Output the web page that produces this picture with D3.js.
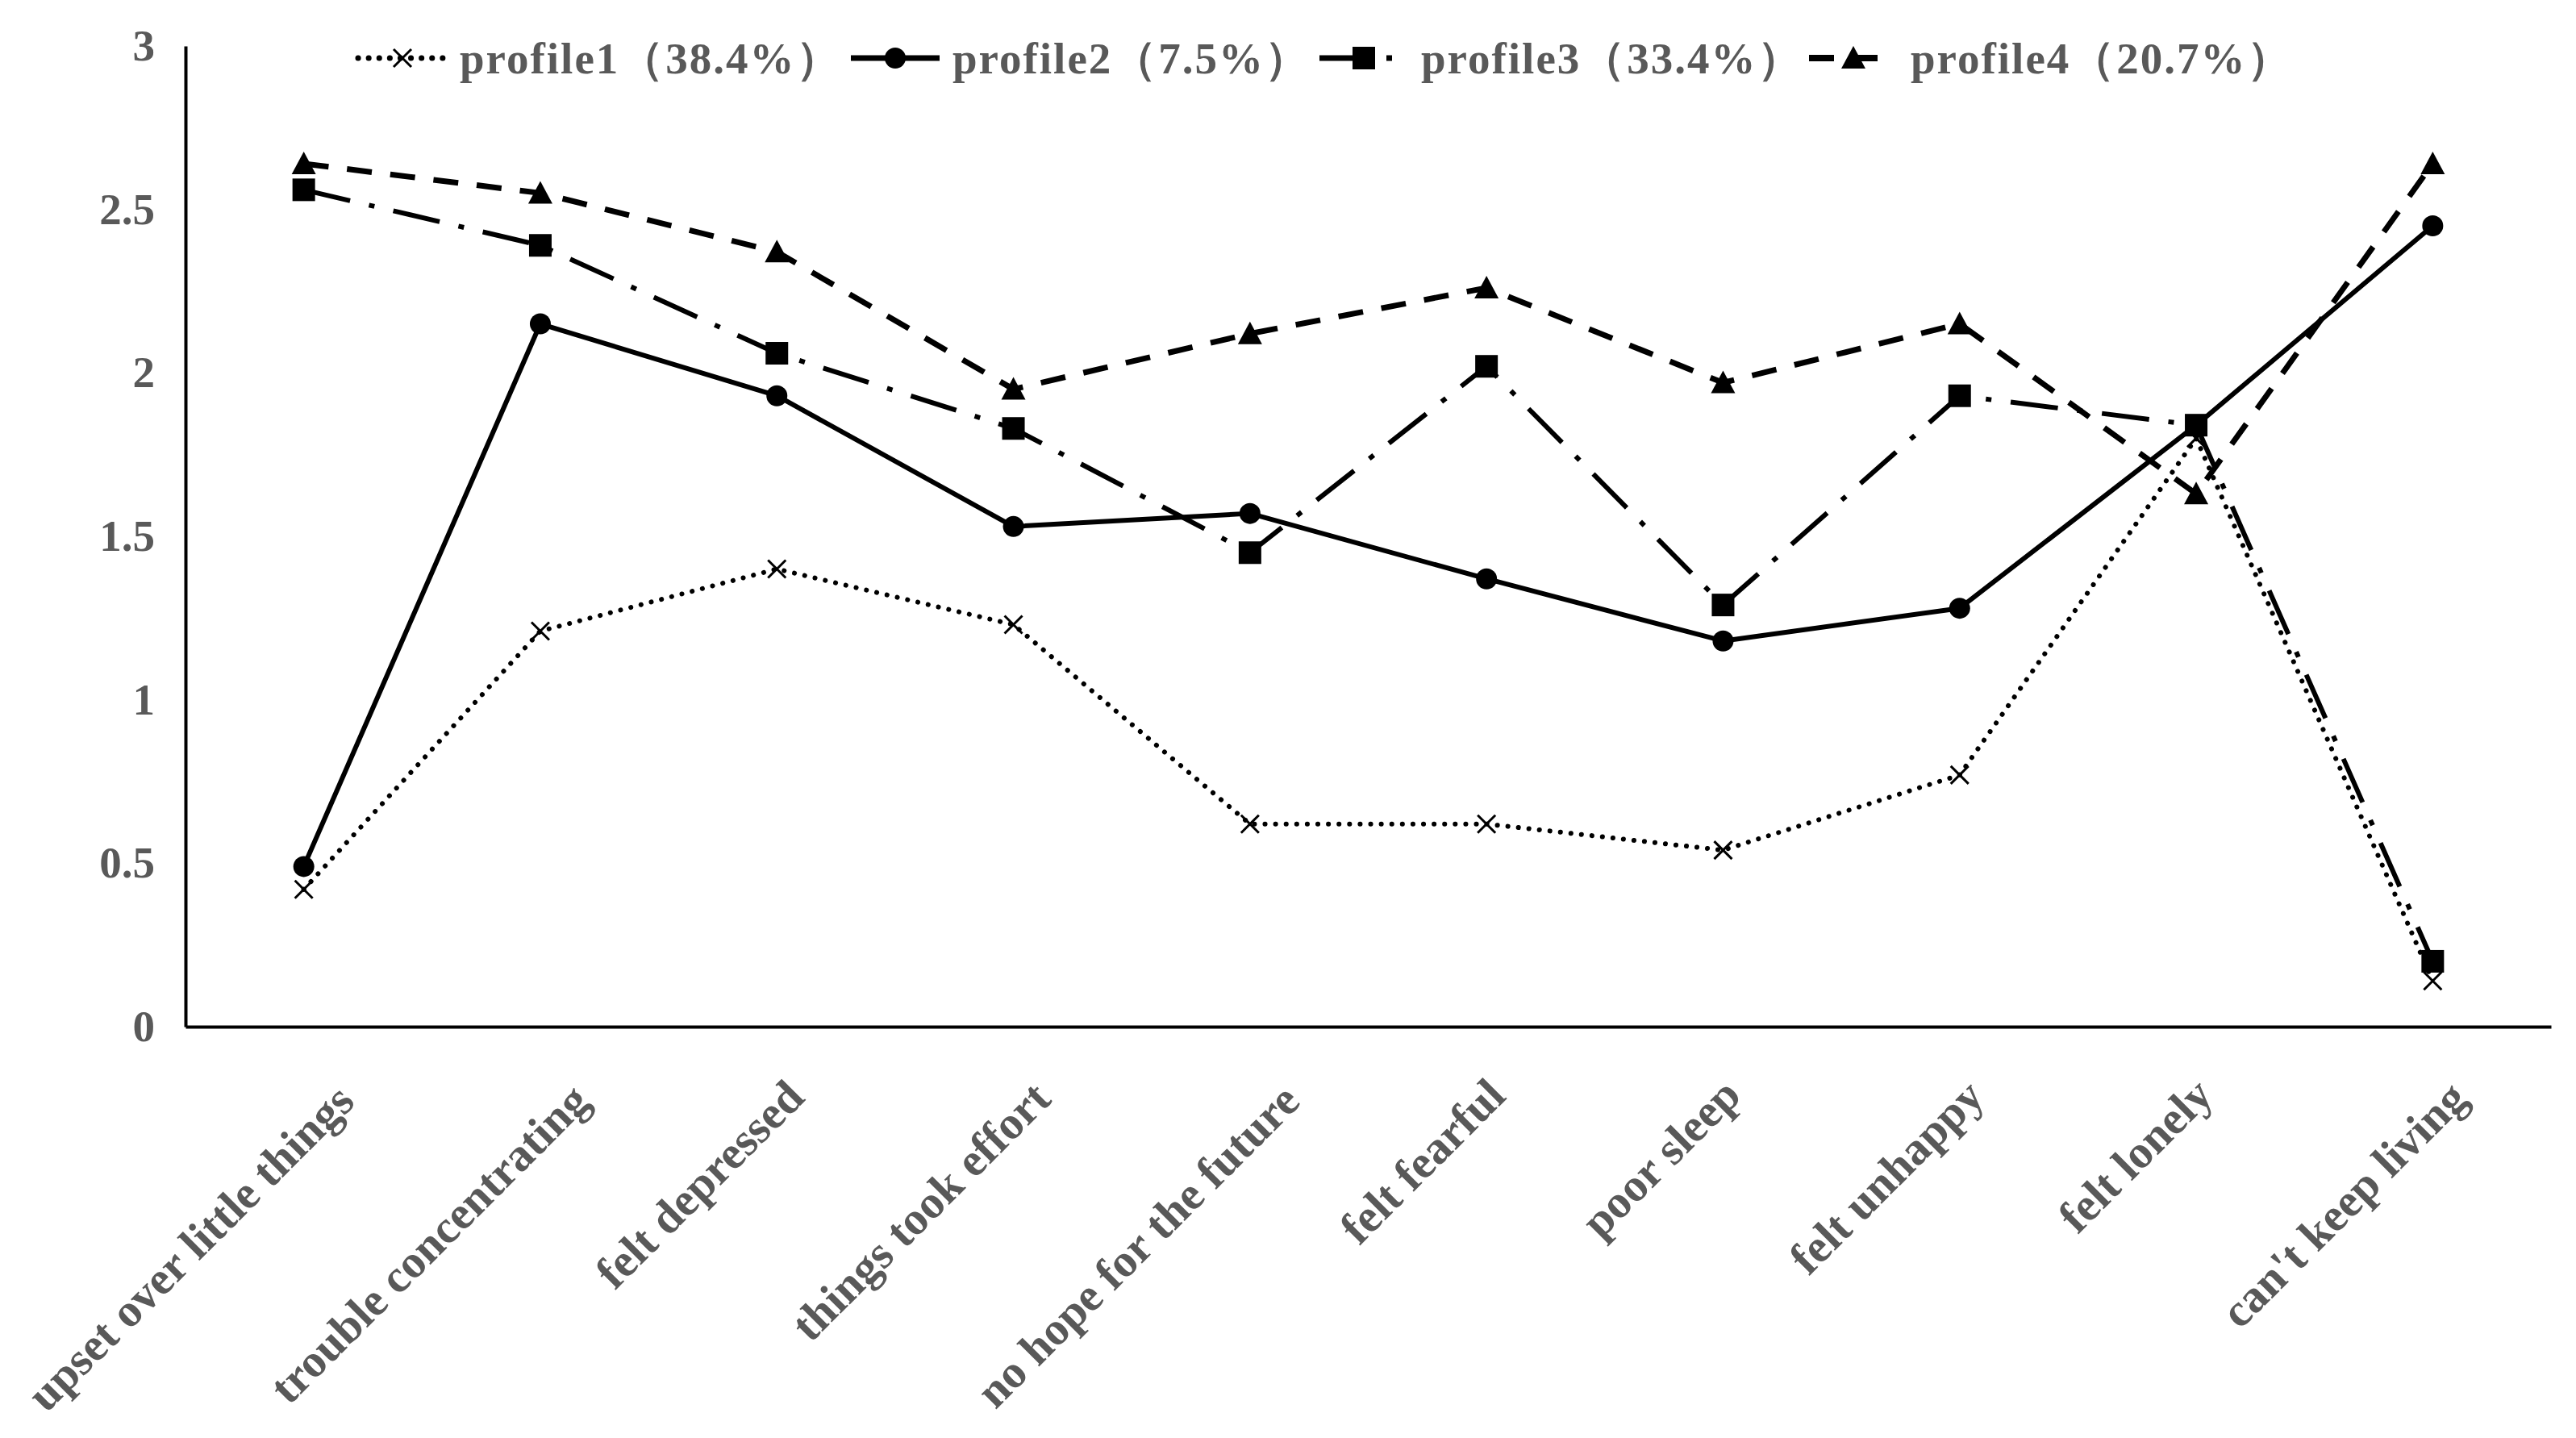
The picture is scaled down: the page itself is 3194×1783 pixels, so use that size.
<!DOCTYPE html>
<html>
<head>
<meta charset="utf-8">
<script src="https://cdnjs.cloudflare.com/ajax/libs/d3/7.8.5/d3.min.js"></script>
<style>
  body { margin: 0; background: #fff; }
  text { font-family: "Liberation Serif", "Times New Roman", serif; font-weight: bold; }
</style>
</head>
<body>
<div id="chart-area"></div>
<script>
// items on the x axis
var categories = ["upset over little things", "trouble concentrating", "felt depressed",
    "things took effort", "no hope for the future", "felt fearful", "poor sleep",
    "felt unhappy", "felt lonely", "can't keep living"];

// series values
var profile1 = [0.42, 1.21, 1.40, 1.23, 0.62, 0.62, 0.54, 0.77, 1.80, 0.14];
var profile2 = [0.49, 2.15, 1.93, 1.53, 1.57, 1.37, 1.18, 1.28, 1.84, 2.45];
var profile3 = [2.56, 2.39, 2.06, 1.83, 1.45, 2.02, 1.29, 1.93, 1.84, 0.20];
var profile4 = [2.64, 2.55, 2.37, 1.95, 2.12, 2.26, 1.97, 2.15, 1.63, 2.64];

var seriesNames = ["profile1（38.4%）", "profile2（7.5%）", "profile3（33.4%）", "profile4（20.7%）"];
var yTicks = [0, 0.5, 1, 1.5, 2, 2.5, 3];

var series = [
    { name: seriesNames[0], values: profile1, dash: "0.1 13", width: 6, cap: "round", marker: "cross", key: 110 },
    { name: seriesNames[1], values: profile2, dash: null, width: 6, cap: "butt", marker: "circle", key: 110 },
    { name: seriesNames[2], values: profile3, dash: "59 24 7 24", width: 6, cap: "butt", marker: "square", key: 110 },
    { name: seriesNames[3], values: profile4, dash: "31 23", width: 7, cap: "butt", marker: "triangle", key: 100 }
];

var W = 3194, H = 1783;
var margin = { left: 230, right: 31, top: 57, bottom: 510 };
var width = W - margin.left - margin.right,
    height = H - margin.top - margin.bottom;
var textColor = "#595959";

var svg = d3.select("#chart-area")
    .append("svg")
    .attr("width", W)
    .attr("height", H);

var g = svg.append("g")
    .attr("transform", "translate(" + margin.left + "," + margin.top + ")");

var x = d3.scaleBand()
    .domain(categories)
    .range([0, width])
    .padding(0);

var y = d3.scaleLinear()
    .domain([0, 3])
    .range([height, 0]);

function cx(i) { return x(categories[i]) + x.bandwidth() / 2; }

// y axis
var yAxisCall = d3.axisLeft(y)
    .tickValues(yTicks)
    .tickSize(0)
    .tickSizeOuter(0)
    .tickPadding(38)
    .tickFormat(function(d){ return d; });
var yAxis = g.append("g")
    .attr("class", "y-axis")
    .call(yAxisCall);
yAxis.select(".domain").attr("stroke", "#000").attr("stroke-width", 4);
yAxis.selectAll("text")
    .attr("font-size", "55px")
    .attr("font-family", "'Liberation Serif', serif")
    .attr("font-weight", "bold")
    .attr("fill", textColor);

// x axis
var xAxisCall = d3.axisBottom(x)
    .tickSize(0)
    .tickSizeOuter(0);
var xAxis = g.append("g")
    .attr("class", "x-axis")
    .attr("transform", "translate(0," + height + ")")
    .call(xAxisCall);
xAxis.select(".domain").attr("stroke", "#000").attr("stroke-width", 4);
xAxis.selectAll("text")
    .attr("x", 0)
    .attr("y", 0)
    .attr("dy", 0)
    .attr("text-anchor", "end")
    .attr("font-size", "57.5px")
    .attr("font-family", "'Liberation Serif', serif")
    .attr("font-weight", "bold")
    .attr("fill", textColor)
    .attr("transform", function(){
        // longer labels sit a bit further right, like the original
        var p = this.getComputedTextLength() * Math.SQRT1_2;
        return "translate(" + (-10 + 0.196 * p) + "," + (82 + 0.035 * p) + ") rotate(-45)";
    });

// marker shapes
function drawMarker(sel, type) {
    if (type === "cross") {
        sel.append("path")
            .attr("d", "M-11,-11L11,11M-11,11L11,-11")
            .attr("stroke", "#000")
            .attr("stroke-width", 3)
            .attr("fill", "none");
    } else if (type === "circle") {
        sel.append("circle")
            .attr("r", 13)
            .attr("fill", "#000");
    } else if (type === "square") {
        sel.append("rect")
            .attr("x", -14).attr("y", -14)
            .attr("width", 28).attr("height", 28)
            .attr("fill", "#000");
    } else if (type === "triangle") {
        sel.append("path")
            .attr("d", "M0,-15L15,13L-15,13Z")
            .attr("fill", "#000");
    }
}

var line = d3.line()
    .x(function(d, i){ return cx(i); })
    .y(function(d){ return y(d); });

series.forEach(function(s) {
    var sg = g.append("g").attr("class", "series");
    sg.append("path")
        .datum(s.values)
        .attr("d", line)
        .attr("fill", "none")
        .attr("stroke", "#000")
        .attr("stroke-width", s.width)
        .attr("stroke-linecap", s.cap)
        .attr("stroke-linejoin", "round")
        .attr("stroke-dasharray", s.dash);

    sg.selectAll(".marker")
        .data(s.values)
        .enter()
        .append("g")
            .attr("class", "marker")
            .attr("transform", function(d, i){ return "translate(" + cx(i) + "," + y(d) + ")"; })
            .each(function(){ drawMarker(d3.select(this), s.marker); });
});

// legend (entry positions follow the original layout)
var legendX = [444, 1055, 1636, 2243];
var ly = 72;
var legend = svg.append("g").attr("class", "legend");
series.forEach(function(s, i) {
    var lg = legend.append("g").attr("transform", "translate(" + legendX[i] + "," + ly + ")");
    lg.append("line")
        .attr("x1", 0).attr("x2", s.key)
        .attr("y1", 0).attr("y2", 0)
        .attr("stroke", "#000")
        .attr("stroke-width", s.width + 1)
        .attr("stroke-linecap", s.cap)
        .attr("stroke-dasharray", s.dash);
    var mg = lg.append("g").attr("transform", "translate(55,0)");
    drawMarker(mg, s.marker);
    lg.append("text")
        .attr("x", 126)
        .attr("y", 0)
        .attr("dy", "0.35em")
        .attr("font-size", "55px")
        .attr("letter-spacing", "2px")
        .attr("fill", textColor)
        .text(s.name);
});
</script>
</body>
</html>
